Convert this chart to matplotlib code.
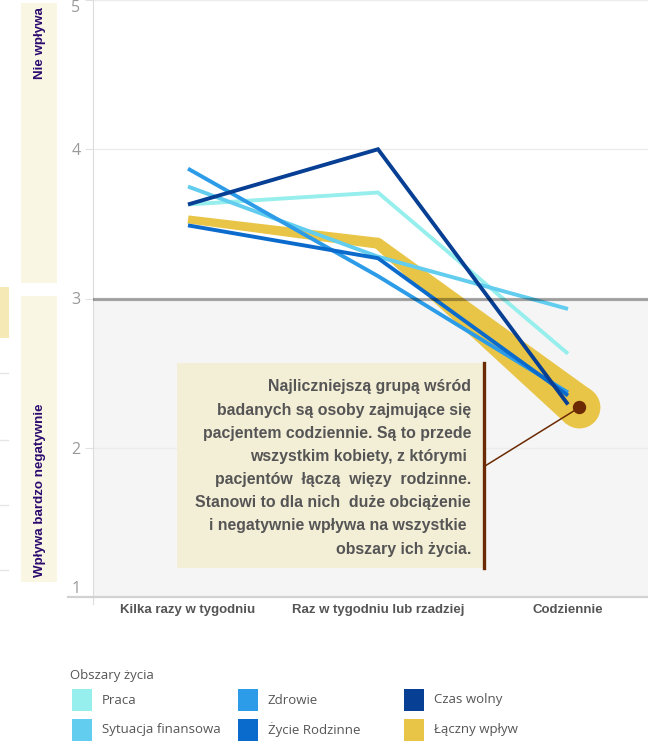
import numpy as np
import matplotlib
matplotlib.use("Agg")
import matplotlib.pyplot as plt
from matplotlib.patches import Polygon, Circle, Rectangle, ConnectionPatch
from matplotlib.transforms import IdentityTransform
from matplotlib.lines import Line2D

# ---- data -------------------------------------------------------------
categories = ["Kilka razy w tygodniu", "Raz w tygodniu lub rzadziej", "Codziennie"]
y_ticks = [1, 2, 3, 4, 5]

praca = [3.63, 3.71, 2.63]
sytuacja_finansowa = [3.75, 3.28, 2.93]
zdrowie = [3.87, 3.15, 2.37]
zycie_rodzinne = [3.49, 3.27, 2.35]
czas_wolny = [3.63, 4.00, 2.29]
laczny_wplyw = [3.53, 3.37, 2.27]
laczny_x = [0, 1, 2.06]
laczny_width_px = [8, 11, 42]

series_names = ["Praca", "Sytuacja finansowa", "Zdrowie", "Życie Rodzinne",
                "Czas wolny", "Łączny wpływ"]
series_colors = ["#96efec", "#62cdee", "#2c9be8", "#0b6bcc", "#063f93", "#e9c547"]
line_series = [praca, sytuacja_finansowa, zdrowie, zycie_rodzinne, czas_wolny]

note = ("Najliczniejszą grupą wśród\n"
        "badanych są osoby zajmujące się\n"
        "pacjentem codziennie. Są to przede\n"
        "wszystkim kobiety, z którymi \n"
        "pacjentów  łączą  więzy  rodzinne.\n"
        "Stanowi to dla nich  duże obciążenie\n"
        "i negatywnie wpływa na wszystkie \n"
        "obszary ich życia.")

# ---- figure -----------------------------------------------------------
W, H = 648, 755
fig = plt.figure(figsize=(W / 100, H / 100), dpi=100)
fig.patch.set_facecolor("white")


def fx(px):
    return px / W


def fy(py):
    return 1 - py / H


ax = fig.add_axes([fx(93), fy(597), (663 - 93) / W, 597 / H])
ax.set_xlim(-0.5, 2.5)
ax.set_ylim(1, 5)
ax.set_facecolor("white")
ax.set_axisbelow(True)

# shaded lower half (negative impact zone)
ax.axhspan(1, 3, color="#f5f5f5", zorder=0, lw=0)
ax.yaxis.grid(True, color="#ececec", lw=1)

ax.set_yticks(y_ticks)
ax.set_yticklabels([str(t) for t in y_ticks], fontfamily="Open Sans")
ax.tick_params(axis="y", length=6, color="#e2e2e2", labelcolor="#9a9a9a",
               labelsize=11.5, pad=3)
ax.get_yticklabels()[-1].set_va("top")
ax.get_yticklabels()[0].set_va("bottom")

ax.set_xticks(range(len(categories)))
ax.set_xticklabels(categories, fontfamily="Liberation Sans", fontweight="bold",
                   fontsize=9.5, color="#555555")
ax.tick_params(axis="x", length=0, pad=5)

for s in ("top", "right"):
    ax.spines[s].set_visible(False)
ax.spines["left"].set_color("#dcdcdc")
ax.spines["left"].set_bounds(0.95, 5)
ax.spines["bottom"].set_color("#d2d2d2")
ax.spines["bottom"].set_linewidth(1.6)
ax.spines["bottom"].set_bounds(-0.63, 2.5)

# ---- combined impact: tapered band ------------------------------------
pts = ax.transData.transform(np.column_stack([laczny_x, laczny_wplyw]))
ycol = series_colors[-1]
for i in range(len(pts) - 1):
    p0, p1 = pts[i], pts[i + 1]
    w0, w1 = laczny_width_px[i] / 2, laczny_width_px[i + 1] / 2
    d = (p1 - p0) / np.hypot(*(p1 - p0))
    n = np.array([-d[1], d[0]])
    poly = [p0 + n * w0, p1 + n * w1, p1 - n * w1, p0 - n * w0]
    ax.add_patch(Polygon(poly, closed=True, transform=IdentityTransform(),
                         color=ycol, lw=0, zorder=2))
for p, w in zip(pts[1:], laczny_width_px[1:]):
    ax.add_patch(Circle(p, w / 2, transform=IdentityTransform(),
                        color=ycol, lw=0, zorder=2))

# ---- area lines ----------------------------------------------------------
for vals, col in zip(line_series, series_colors[:-1]):
    ax.plot(range(len(vals)), vals, color=col, lw=2.8, zorder=3,
            solid_capstyle="butt", solid_joinstyle="miter")

# neutral reference line
ax.axhline(3, color="black", alpha=0.33, lw=2.3, zorder=4)

# end marker of the combined impact
ax.plot(laczny_x[-1], laczny_wplyw[-1], "o", ms=8.6, color="#6b2a02", zorder=6)

# ---- note box ---------------------------------------------------------
fig.patches.append(Rectangle((fx(177), fy(568)), (483 - 177) / W, (568 - 363) / H,
                             transform=fig.transFigure, color="#f3eed6", lw=0,
                             zorder=5))
fig.lines.append(Line2D([fx(484), fx(484)], [fy(363), fy(568)],
                        transform=fig.transFigure, color="#6b2a02", lw=2.4,
                        zorder=6))
con = ConnectionPatch(xyA=(fx(485), fy(466)), coordsA=fig.transFigure,
                      xyB=(laczny_x[-1], laczny_wplyw[-1]), coordsB=ax.transData,
                      color="#6b2a02", lw=1.1, zorder=6)
fig.add_artist(con)
fig.text(fx(471), fy(468), note, ha="right", va="center", multialignment="right",
         fontfamily="Liberation Sans", fontweight="bold", fontsize=11.4,
         color="#555555", linespacing=1.68, zorder=7)

# ---- side bands -------------------------------------------------------
band_col = "#faf6e4"
fig.patches.append(Rectangle((fx(21), fy(283)), 36 / W, 280 / H,
                             transform=fig.transFigure, color=band_col, lw=0))
fig.patches.append(Rectangle((fx(21), fy(582)), 36 / W, 286 / H,
                             transform=fig.transFigure, color=band_col, lw=0))
fig.text(fx(40), fy(7), "Nie wpływa", rotation=90, ha="center", va="top",
         fontfamily="Liberation Sans", fontweight="bold", fontsize=9.6,
         color="#2b0b6e")
fig.text(fx(40), fy(577), "Wpływa bardzo negatywnie", rotation=90,
         ha="center", va="bottom", fontfamily="Liberation Sans",
         fontweight="bold", fontsize=9.6, color="#2b0b6e")

fig.patches.append(Rectangle((0, fy(338)), 9 / W, 51 / H,
                             transform=fig.transFigure, color="#f5e9b5", lw=0))
for py in (373, 440, 505, 570):
    fig.lines.append(Line2D([0, fx(8)], [fy(py), fy(py)],
                            transform=fig.transFigure, color="#e6e6e6", lw=1))

# ---- legend -------------------------------------------------------------
fig.text(fx(70), fy(676), "Obszary życia", ha="left", va="center",
         fontfamily="Open Sans", fontsize=9.5, color="#555555")
col_x = [72, 238, 404]
row_y = [700, 730]
for i, (name, col) in enumerate(zip(series_names, series_colors)):
    cx, cy = col_x[i // 2], row_y[i % 2]
    fig.patches.append(Rectangle((fx(cx), fy(cy + 11)), 20 / W, 22 / H,
                                 transform=fig.transFigure, color=col, lw=0))
    fig.text(fx(cx + 30), fy(cy), name, ha="left", va="center",
             fontfamily="Open Sans", fontsize=9.5, color="#555555")

fig.savefig("out.png", dpi=100)
